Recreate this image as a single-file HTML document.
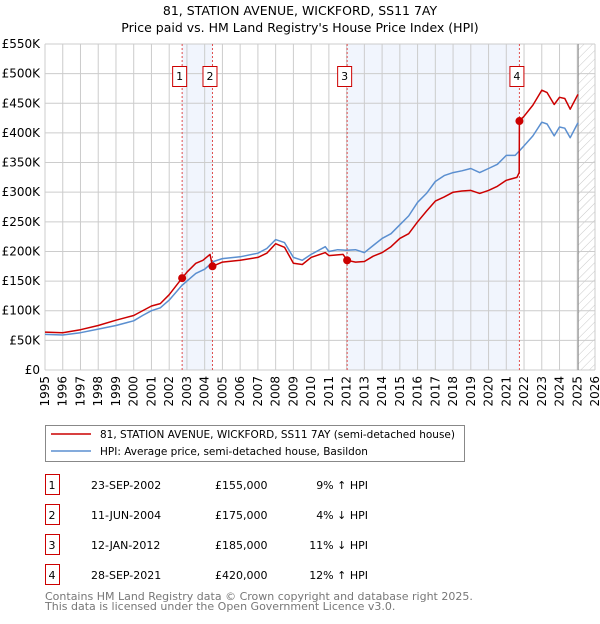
<!DOCTYPE html>
<html><head><meta charset="utf-8"><style>
body{margin:0;background:#fff;font-family:"DejaVu Sans","Liberation Sans",sans-serif;}
svg text{font-family:"DejaVu Sans","Liberation Sans",sans-serif;}
</style></head><body>
<svg id="c" width="600" height="620" xmlns="http://www.w3.org/2000/svg">
<defs><pattern id="hatch" width="6" height="6" patternUnits="userSpaceOnUse" patternTransform="rotate(45)"><line x1="0" y1="0" x2="0" y2="6" stroke="#bbb" stroke-width="0.8"/></pattern></defs>
<text x="300" y="15" text-anchor="middle" font-size="12.5" fill="#000">81, STATION AVENUE, WICKFORD, SS11 7AY</text>
<text x="300" y="32" text-anchor="middle" font-size="12.5" fill="#000">Price paid vs. HM Land Registry's House Price Index (HPI)</text>
<g id="plot"></g>
<g>
<rect x="45.5" y="425.5" width="419" height="36" fill="#fff" stroke="#888"/>
<line x1="51" y1="434" x2="91" y2="434" stroke="#cc0000" stroke-width="1.5"/>
<text x="100" y="438" font-size="10.5">81, STATION AVENUE, WICKFORD, SS11 7AY (semi-detached house)</text>
<line x1="51" y1="451" x2="91" y2="451" stroke="#5b8fd0" stroke-width="1.5"/>
<text x="100" y="455" font-size="10.5">HPI: Average price, semi-detached house, Basildon</text>
</g>
<g id="table" font-size="11"></g>
<text x="45" y="600" font-size="11" fill="#777">Contains HM Land Registry data © Crown copyright and database right 2025.</text>
<text x="45" y="610" font-size="11" fill="#777">This data is licensed under the Open Government Licence v3.0.</text>
</svg>
<script>
const hpiT=[1995,1996,1997,1998,1999,2000,2000.5,2001,2001.5,2002,2002.7,2003,2003.5,2004,2004.5,2005,2006,2007,2007.5,2008,2008.5,2009,2009.5,2010,2010.8,2011,2011.5,2012,2012.5,2013,2013.5,2014,2014.5,2015,2015.5,2016,2016.5,2017,2017.5,2018,2018.5,2019,2019.5,2020,2020.5,2021,2021.5,2022,2022.5,2023,2023.3,2023.7,2024,2024.3,2024.6,2025,2025.05];
const hpiV=[60,59,63,69,75,83,92,100,105,118,142,150,163,170,183,188,191,197,205,220,215,190,185,195,208,200,203,202,203,198,210,222,230,245,260,283,298,318,328,333,336,340,333,340,347,362,362,378,395,418,415,395,410,408,392,415,417];
const priceT=[1995,1996,1997,1998,1999,2000,2001,2001.5,2002,2002.73,2003,2003.5,2003.9,2004.3,2004.44,2005,2006,2007,2007.5,2008,2008.5,2009,2009.5,2010,2010.8,2011,2011.8,2012.03,2012.5,2013,2013.5,2014,2014.5,2015,2015.5,2016,2016.5,2017,2017.5,2018,2018.5,2019,2019.5,2020,2020.5,2021,2021.6,2021.73,2021.74,2022,2022.5,2023,2023.3,2023.7,2024,2024.3,2024.6,2025,2025.05];
const priceV=[64,63,68,75,84,92,108,112,127,155,165,180,185,195,175,182,185,190,197,213,207,180,178,190,198,193,195,185,182,183,192,198,208,222,230,250,268,285,292,300,302,303,298,303,310,320,325,333,420,428,447,472,468,448,460,458,440,463,465];
const saleLabels=["1","2","3","4"];
const saleT=[2002.73,2004.44,2012.03,2021.74];
const saleV=[155,175,185,420];
const saleDates=["23-SEP-2002","11-JUN-2004","12-JAN-2012","28-SEP-2021"];
const salePrices=["£155,000","£175,000","£185,000","£420,000"];
const saleHpi=["9% ↑ HPI","4% ↓ HPI","11% ↓ HPI","12% ↑ HPI"];
const yTicks=[0,50,100,150,200,250,300,350,400,450,500,550];
const yLabels=["£0","£50K","£100K","£150K","£200K","£250K","£300K","£350K","£400K","£450K","£500K","£550K"];
const xTicks=[1995,1996,1997,1998,1999,2000,2001,2002,2003,2004,2005,2006,2007,2008,2009,2010,2011,2012,2013,2014,2015,2016,2017,2018,2019,2020,2021,2022,2023,2024,2025,2026];
const X0=45,X1=595,Y0=370,Y1=44;
const xs=t=>X0+(t-1995)/(2026-1995)*(X1-X0);
const ys=v=>Y0-v/550*(Y0-Y1);
const NS="http://www.w3.org/2000/svg";
const g=document.getElementById('plot');
function mk(tag,at,parent){const e=document.createElementNS(NS,tag);for(const k in at)e.setAttribute(k,at[k]);(parent||g).appendChild(e);return e;}
for(const [a,b,n] of [[0,1,'shade-sales-1-2'],[2,3,'shade-sales-3-4']]){
 const r=mk('rect',{x:xs(saleT[a]),y:Y1,width:xs(saleT[b])-xs(saleT[a]),height:Y0-Y1,fill:'#eef3fc',opacity:0.8});
 
 
}
const hz=mk('rect',{x:xs(2025.05),y:Y1,width:X1-xs(2025.05),height:Y0-Y1,fill:'url(#hatch)'});


yTicks.forEach((v,i)=>{
 const l=mk('line',{x1:X0,x2:X1,y1:ys(v),y2:ys(v),stroke:'#cccccc','stroke-width':1});
 
 
 const t=mk('text',{x:40,y:ys(v)+4,'text-anchor':'end','font-size':12});
 t.textContent=yLabels[i];
 
 
});
xTicks.forEach(yr=>{
 const l=mk('line',{x1:xs(yr),x2:xs(yr),y1:Y1,y2:Y0,stroke:'#cccccc','stroke-width':1});
 
 
 const t=mk('text',{x:0,y:0,'text-anchor':'end','font-size':12,transform:`translate(${xs(yr)+4},376) rotate(-90)`});
 t.textContent=yr;
 
 
});
const vl=mk('line',{x1:xs(2025.05),x2:xs(2025.05),y1:Y1,y2:Y0,stroke:'#888','stroke-width':1});


saleT.forEach((t,i)=>{
 const l=mk('line',{x1:xs(t),x2:xs(t),y1:Y1,y2:Y0,stroke:'#e05050','stroke-width':1,'stroke-dasharray':'2,2'});
 
 
});
function path(T,V,col,name){
 const d=T.map((t,i)=>(i?'L':'M')+xs(t).toFixed(1)+','+ys(V[i]).toFixed(1)).join('');
 const p=mk('path',{d,fill:'none',stroke:col,'stroke-width':1.5,'stroke-linejoin':'round'});
 
 
}
path(hpiT,hpiV,'#5b8fd0','hpi-line');
path(priceT,priceV,'#cc0000','price-line');
saleT.forEach((t,i)=>{
 const c=mk('circle',{cx:xs(t),cy:ys(saleV[i]),r:4,fill:'#cc0000'});
 
 
 const b=mk('rect',{x:xs(t)-9.5,y:66.5,width:14,height:20,fill:'#fff',stroke:'#cc0000','stroke-width':1});
 
 
 const tx=mk('text',{x:xs(t)-2.5,y:80,'text-anchor':'middle','font-size':11});
 tx.textContent=saleLabels[i];
 
 
});
const tb=document.getElementById('table');
saleLabels.forEach((s,i)=>{
 const y=487+i*30;
 const r=mk('rect',{x:45.5,y:y-12.5,width:14,height:20,fill:'#fff',stroke:'#cc0000'},tb);
 
 
 const cells=[[52,s,'middle','row-number'],[91,saleDates[i],'start','row-date'],[215,salePrices[i],'start','row-price'],[368,saleHpi[i],'end','row-hpi-diff']];
 cells.forEach(([x,txt,a,n])=>{
  const t=mk('text',{x,y:y+2,'text-anchor':a},tb);
  t.textContent=txt;
  
  
 });
});
</script>
</body></html>
